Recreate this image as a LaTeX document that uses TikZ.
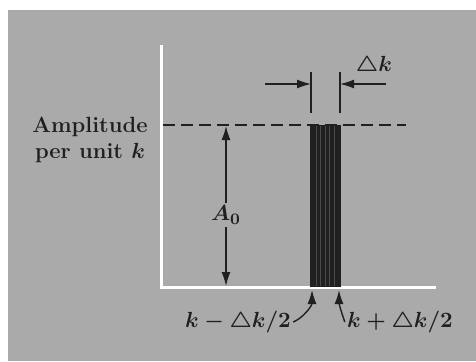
\documentclass[tikz,border=0pt]{standalone}
\usepackage{amsmath,amssymb}
\usetikzlibrary{arrows.meta,positioning}
\definecolor{paper}{RGB}{170,170,170}
\definecolor{ink}{RGB}{32,32,32}

\begin{document}
\begin{tikzpicture}[x=0.5pt, y=-0.5pt,
  axisline/.style={white, line width=1.5pt},
  lbl/.style={font=\fontsize{11}{13}\selectfont\bfseries\boldmath, text=ink, inner sep=1pt},
  arr/.style={ink, line width=0.7pt, -{Latex[length=7pt,width=4.5pt]}},
]
  \useasboundingbox (0,0) rectangle (476,361);
  \fill[paper] (8,10) rectangle (476,361);

  % Axes
  \coordinate (origin) at (161,287);
  \draw[axisline] (161,45) -- (origin) -- (436,287);

  % Level of the amplitude
  \draw[ink, line width=0.8pt, dash pattern=on 6pt off 3pt] (163,125) -- (406,125);

  % The band
  \fill[ink] (310,125) rectangle (341,287);
  \foreach \x in {316,320,325,329,334}{
    \draw[gray!45!ink, line width=0.3pt] (\x,126) -- (\x,286);
  }

  % Labels
  \node[lbl, align=center] (amp) at (90,140) {Amplitude\\per unit $k$};
  \node[lbl] (azero) at (226,215) {$A_0$};
  \node[lbl] (dk) at (374,66) {$\triangle k$};
  \node[lbl] (lo) at (238,322) {$k - \triangle k/2$};
  \node[lbl] (hi) at (400,322) {$k + \triangle k/2$};

  % Height arrow
  \coordinate (top) at (226,126);
  \coordinate (bot) at (226,286);
  \draw[arr] (azero.north) -- (top);
  \draw[arr] (azero.south) -- (bot);

  % Width markers
  \coordinate (tl) at (311,72);
  \coordinate (tr) at (340,72);
  \draw[ink, line width=0.8pt] (tl) -- (311,113);
  \draw[ink, line width=0.8pt] (tr) -- (340,113);
  \coordinate (wl) at (265,84);
  \coordinate (wr) at (386,84);
  \draw[arr] (wl) -- (311,84);
  \draw[arr] (wr) -- (340,84);

  % Edge pointers
  \coordinate (loend) at (312,290);
  \coordinate (hiend) at (339,290);
  \draw[arr] (lo.east) .. controls (303,318) and (312,306) .. (loend);
  \draw[arr] (hi.west) .. controls (342,314) and (339,304) .. (hiend);
\end{tikzpicture}
\end{document}
